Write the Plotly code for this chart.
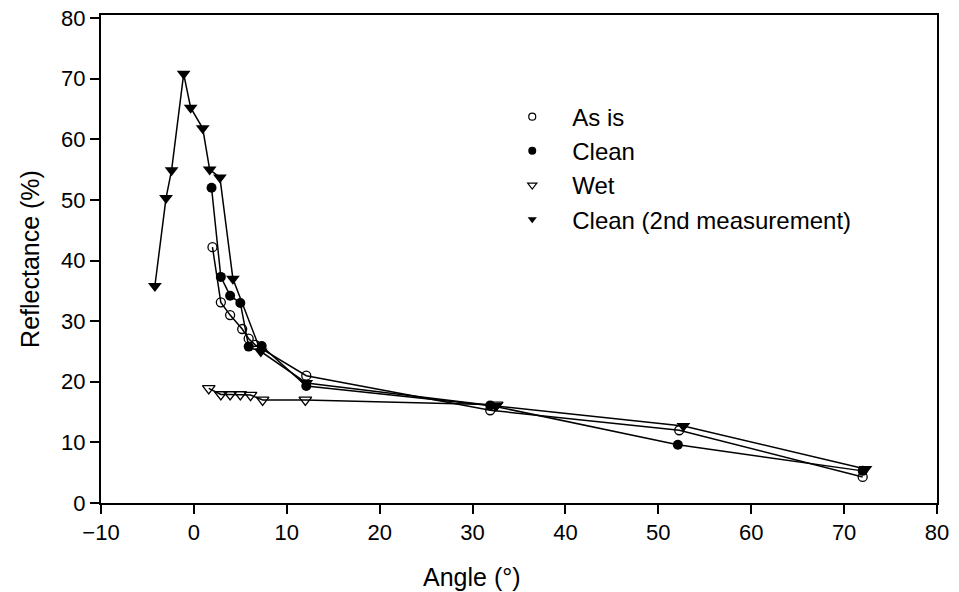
import plotly.graph_objects as go

# Data
asis_x = [2.0, 2.9, 3.9, 5.2, 5.9, 6.6, 12.1, 31.9, 52.25, 72.0]
asis_y = [42.2, 33.1, 31.0, 28.7, 27.1, 26.1, 21.0, 15.3, 12.0, 4.3]

clean_x = [1.9, 2.9, 3.9, 5.0, 5.9, 7.3, 12.1, 31.9, 52.1, 72.0]
clean_y = [52.0, 37.3, 34.2, 33.0, 25.8, 25.9, 19.3, 16.1, 9.6, 5.3]

wet_x = [1.6, 2.9, 3.9, 5.0, 6.1, 7.4, 12.0, 32.6]
wet_y = [18.9, 17.9, 17.9, 17.9, 17.8, 17.0, 17.0, 16.2]

clean2_x = [-4.2, -3.0, -2.4, -1.1, -0.35, 0.95, 1.7, 2.8, 4.2, 7.2, 12.1, 32.5, 52.7, 72.3]
clean2_y = [35.8, 50.3, 54.9, 70.8, 65.2, 61.8, 55.0, 53.7, 37.0, 25.0, 19.8, 16.0, 12.7, 5.6]

names = ["As is", "Clean", "Wet", "Clean (2nd measurement)"]
x_ticks = [-10, 0, 10, 20, 30, 40, 50, 60, 70, 80]
x_ticktext = ["\u221210", "0", "10", "20", "30", "40", "50", "60", "70", "80"]
y_ticks = [0, 10, 20, 30, 40, 50, 60, 70, 80]

font_family = "Liberation Sans, Arial, Helvetica, sans-serif"

series = [
    (asis_x, asis_y, dict(symbol="circle-open", size=9, color="black", line=dict(width=1.3, color="black"))),
    (clean_x, clean_y, dict(symbol="circle", size=10, color="black")),
    (wet_x, wet_y, dict(symbol="triangle-down-open", size=11, color="black", line=dict(width=1.3, color="black"))),
    (clean2_x, clean2_y, dict(symbol="triangle-down", size=12, color="black")),
]

legend_markers = [
    dict(symbol="circle-open", size=7, color="black", line=dict(width=1.2, color="black")),
    dict(symbol="circle", size=8, color="black"),
    dict(symbol="triangle-down-open", size=8, color="black", line=dict(width=1.2, color="black")),
    dict(symbol="triangle-down", size=8, color="black"),
]

fig = go.Figure()
for (xs, ys, mk), name in zip(series, names):
    fig.add_trace(go.Scatter(
        x=xs, y=ys, mode="lines+markers", name=name,
        line=dict(color="black", width=1.5), marker=mk,
        showlegend=False,
    ))
for name, mk in zip(names, legend_markers):
    fig.add_trace(go.Scatter(
        x=[None], y=[None], mode="markers", name=name, marker=mk,
        showlegend=True,
    ))

fig.update_layout(
    width=959, height=592,
    margin=dict(l=101, r=22, t=15, b=89),
    paper_bgcolor="white", plot_bgcolor="white",
    font=dict(family=font_family, size=22, color="black"),
    legend=dict(
        x=0.468, y=0.837, xanchor="left", yanchor="top",
        bgcolor="rgba(0,0,0,0)", font=dict(size=24, family=font_family),
        tracegroupgap=0, itemsizing="trace", itemwidth=70,
    ),
    xaxis=dict(
        range=[-10, 80], tickvals=x_ticks, ticktext=x_ticktext,
        ticks="outside", ticklen=9, tickwidth=1.5, tickcolor="black",
        showline=True, linecolor="black", linewidth=2, mirror=True,
        showgrid=False, zeroline=False, automargin=False,
        tickfont=dict(size=22),
    ),
    yaxis=dict(
        range=[0, 80.5], tickvals=y_ticks,
        ticks="outside", ticklen=9, tickwidth=1.5, tickcolor="black",
        showline=True, linecolor="black", linewidth=2, mirror=True,
        showgrid=False, zeroline=False, automargin=False,
        title=dict(text="Reflectance (%)", font=dict(size=25, family=font_family), standoff=14),
        tickfont=dict(size=22),
    ),
    annotations=[dict(
        text="Angle (\u00b0)", xref="paper", yref="paper",
        x=0.444, y=-0.1516, xanchor="center", yanchor="middle",
        showarrow=False, font=dict(size=25, family=font_family),
    )],
)

fig.write_html("out.html", config={"displayModeBar": False},
               post_script="document.body.style.margin='0';")
